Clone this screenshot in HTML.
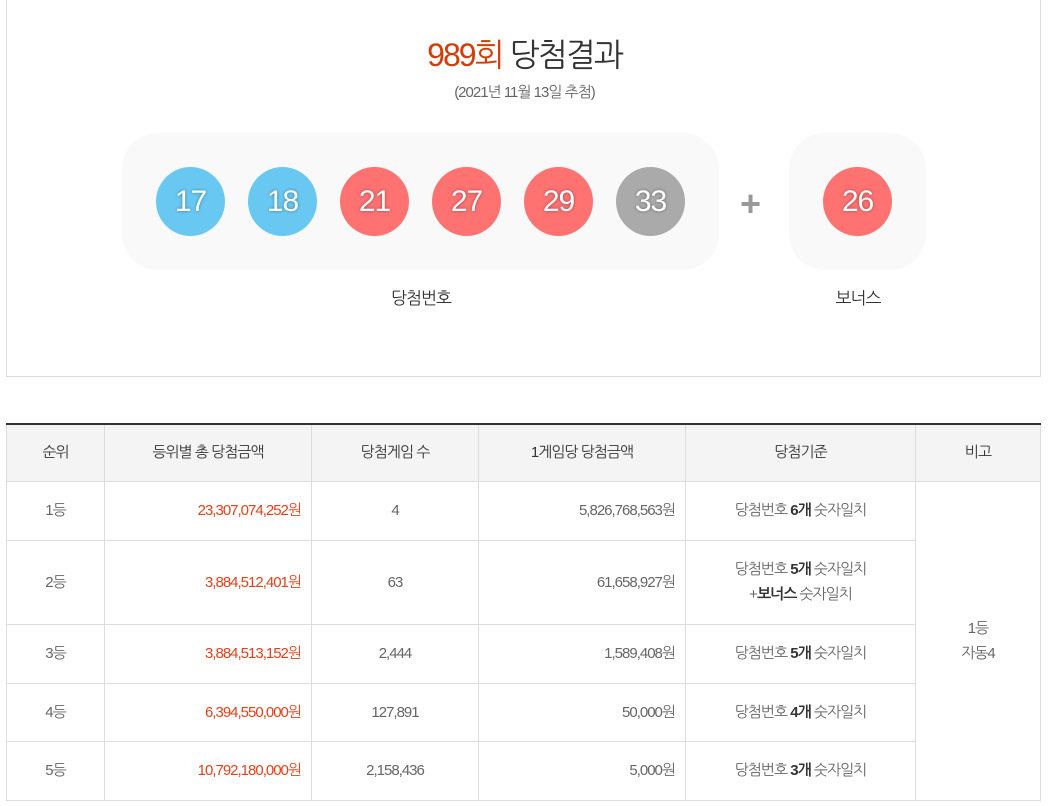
<!DOCTYPE html>
<html><head><meta charset="utf-8"><style>
*{margin:0;padding:0;box-sizing:border-box}
body{width:1049px;height:806px;background:#fff;font-family:"Liberation Sans","NanumGothic","Noto Sans CJK KR",sans-serif;color:#333;position:relative;overflow:hidden;letter-spacing:-1px}
.box{position:absolute;left:6px;top:-2px;width:1035px;height:379px;border:1px solid #ddd;border-top:none}
.t{position:absolute;top:35px;left:0;width:1049px;text-align:center;font-size:32px;letter-spacing:-2px}
.t b{color:#d33c06;font-weight:normal}
.d{position:absolute;top:83px;left:0;width:1049px;text-align:center;font-size:15px;color:#666}
.p{position:absolute;background:#f9f9f9;border-radius:36px}
.ball{position:absolute;width:69px;height:69px;border-radius:50%;color:#fff;font-size:30px;text-align:center;line-height:69px;text-shadow:0 0 3px rgba(0,0,0,.4)}
.b{background:#69c8f2}.r{background:#ff7272}.g{background:#aaa}
.lab{position:absolute;top:288px;font-size:17px;color:#333;text-align:center;width:200px}
table{position:absolute;left:6px;top:423px;width:1035px;border-collapse:collapse;border-top:2px solid #333;font-size:15px}
td,th{border:1px solid #ddd;text-align:center;color:#666;font-weight:normal}
th{background:#f4f4f4;color:#333;height:57px}
td.m{text-align:right;padding-right:10px;color:#e0421b}
td.n{text-align:right;padding-right:10px}
td.c b{color:#333}
</style></head><body>
<div class="box"></div>
<div class="t"><b>989회</b> 당첨결과</div>
<div class="d">(2021년 11월 13일 추첨)</div>
<div class="p" style="left:122px;top:133px;width:597px;height:137px"></div>
<div class="p" style="left:789px;top:133px;width:137px;height:137px"></div>
<div class="ball b" style="left:156px;top:167px">17</div>
<div class="ball b" style="left:248px;top:167px">18</div>
<div class="ball r" style="left:340px;top:167px">21</div>
<div class="ball r" style="left:432px;top:167px">27</div>
<div class="ball r" style="left:524px;top:167px">29</div>
<div class="ball g" style="left:616px;top:167px">33</div>
<div class="ball r" style="left:823px;top:167px">26</div>
<div style="position:absolute;left:740px;top:183px;font-size:36px;color:#999;font-weight:bold">+</div>
<div class="lab" style="left:321px">당첨번호</div>
<div class="lab" style="left:758px">보너스</div>
<table>
<tr><th style="width:98px">순위</th><th style="width:207px">등위별 총 당첨금액</th><th style="width:167px">당첨게임 수</th><th style="width:207px">1게임당 당첨금액</th><th style="width:230px">당첨기준</th><th>비고</th></tr>
<tr style="height:59px"><td>1등</td><td class="m">23,307,074,252원</td><td>4</td><td class="n">5,826,768,563원</td><td class="c">당첨번호 <b>6개</b> 숫자일치</td><td rowspan="5" style="line-height:25px">1등<br>자동4</td></tr>
<tr style="height:84px"><td>2등</td><td class="m">3,884,512,401원</td><td>63</td><td class="n">61,658,927원</td><td class="c" style="line-height:25px">당첨번호 <b>5개</b> 숫자일치<br>+<b>보너스</b> 숫자일치</td></tr>
<tr style="height:59px"><td>3등</td><td class="m">3,884,513,152원</td><td>2,444</td><td class="n">1,589,408원</td><td class="c">당첨번호 <b>5개</b> 숫자일치</td></tr>
<tr style="height:58px"><td>4등</td><td class="m">6,394,550,000원</td><td>127,891</td><td class="n">50,000원</td><td class="c">당첨번호 <b>4개</b> 숫자일치</td></tr>
<tr style="height:59px"><td>5등</td><td class="m">10,792,180,000원</td><td>2,158,436</td><td class="n">5,000원</td><td class="c">당첨번호 <b>3개</b> 숫자일치</td></tr>
</table>
</body></html>
